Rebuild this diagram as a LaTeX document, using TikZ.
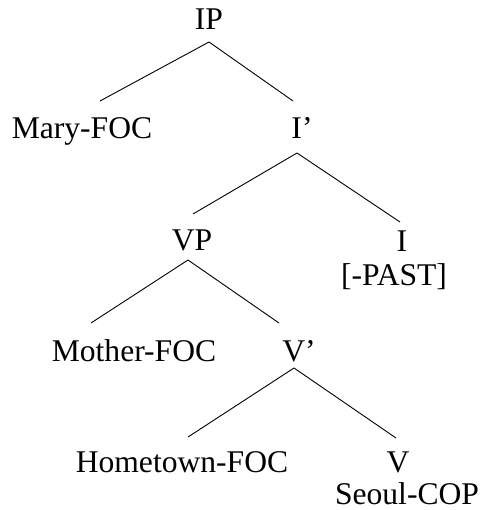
\documentclass[tikz,border=0pt]{standalone}
\usepackage{fontspec}
\setmainfont{Liberation Serif}
\begin{document}
\begin{tikzpicture}[x=1pt,y=-1pt,
  lab/.style={inner sep=0pt,outer sep=0pt,text height=21pt,text depth=7pt,anchor=base,font=\fontsize{31.6}{37}\selectfont},
  edge/.style={line width=0.9pt}]
\useasboundingbox (0,0) rectangle (486,510);
\node[lab] (IP) at (209,30) {IP};
\node[lab] (mary) at (82,139) {Mary-FOC};
\node[lab] (ibar) at (302,139) {I’};
\node[lab] (vp) at (192,250) {VP};
\node[lab] (i) at (402,251) {I};
\node[lab] (past) at (394,285) {[-PAST]};
\node[lab] (mother) at (134,361) {Mother-FOC};
\node[lab] (vbar) at (299,361) {V’};
\node[lab] (home) at (182,472) {Hometown-FOC};
\node[lab] (v) at (398,472) {V};
\node[lab,text depth=0pt] (seoul) at (407,504) {Seoul-COP};
\draw[edge] ([yshift=-5pt]IP.south) -- ([xshift=18pt,yshift=17pt]mary.north);
\draw[edge] ([yshift=-5pt]IP.south) -- ([xshift=-9pt,yshift=17pt]ibar.north);
\draw[edge] ([xshift=-5pt,yshift=-7pt]ibar.south) -- ([xshift=1pt,yshift=15pt]vp.north);
\draw[edge] ([xshift=-5pt,yshift=-7pt]ibar.south) -- ([xshift=-2pt,yshift=8pt]i.north);
\draw[edge] ([xshift=-4pt,yshift=-3pt]vp.south) -- ([xshift=-43pt,yshift=17pt]mother.north);
\draw[edge] ([xshift=-4pt,yshift=-3pt]vp.south) -- ([xshift=-20pt,yshift=17pt]vbar.north);
\draw[edge] ([xshift=-5pt]vbar.south) -- ([xshift=6pt,yshift=14pt]home.north);
\draw[edge] ([xshift=-5pt]vbar.south) -- ([xshift=-2pt,yshift=13pt]v.north);
\end{tikzpicture}
\end{document}
